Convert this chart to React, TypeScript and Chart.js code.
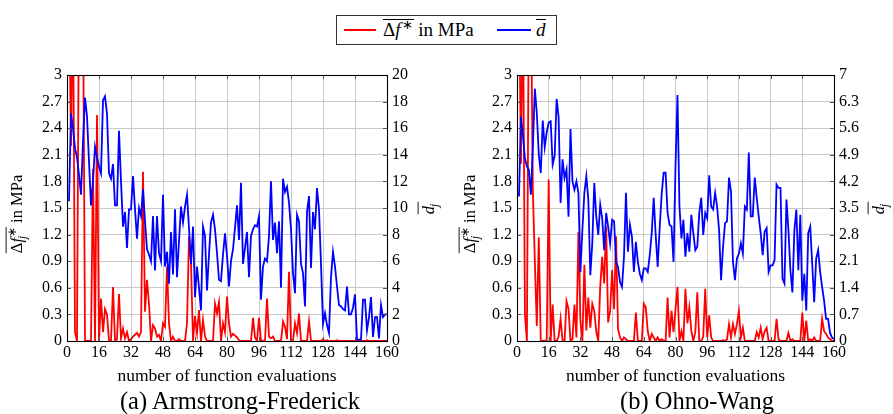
import React, { useEffect, useRef } from "react";
import { Chart, registerables } from "chart.js";

Chart.register(...registerables);

const FONT = "'Liberation Serif', 'Times New Roman', serif";

// function-evaluation index of each sample
const evaluations: number[] = Array.from({ length: 160 }, (_, i) => i + 1);

// (a) Armstrong-Frederick
const afStressDiff: number[] = [
  4, 2.2, 4, 0.1, 0, 4, 4, 4, 0, 0,
  0, 0, 1.94, 0, 2.55, 0, 0.48, 0.1, 0.36, 0.3,
  0, 0, 0.61, 0, 0.02, 0.53, 0.03, 0.14, 0.03, 0.1,
  0, 0.02, 0.05, 0.07, 0.09, 0.05, 0.1, 1.91, 0.33, 0.69,
  0.42, 0, 0.18, 0.14, 0.05, 0.07, 0, 0.2, 0.16, 0.84,
  0.2, 0, 0.05, 0, 0, 0.02, 0, 0, 0, 0.2,
  1.18, 0.88, 0, 0.28, 0.09, 0.35, 0, 0.24, 0.05, 0,
  0, 0, 0, 0.42, 0.31, 0.44, 0, 0.2, 0.1, 0.5,
  0.2, 0.05, 0.08, 0.06, 0.04, 0.01, 0, 0, 0, 0,
  0, 0, 0.26, 0.04, 0, 0.26, 0, 0, 0, 0.48,
  0.05, 0.03, 0.05, 0, 0, 0, 0, 0.22, 0.16, 0.02,
  0.78, 0, 0, 0.2, 0.09, 0.31, 0, 0, 0, 0,
  0.22, 0, 0, 0, 0, 0, 0, 0.02, 0, 0.01,
  0, 0, 0, 0, 0.01, 0, 0, 0, 0, 0,
  0, 0, 0, 0, 0, 0, 0, 0, 0, 0.01,
  0, 0, 0, 0, 0, 0, 0, 0, 0, 0,
];
const afDistance: number[] = [
  10.5, 17.1, 16.0, 14.5, 13.8, 12.5, 11.0, 15.0, 18.3, 16.9,
  13.5, 10.2, 12.0, 14.6, 13.8, 13.1, 12.6, 18.1, 18.4, 17.1,
  12.6, 12.2, 13.3, 10.2, 10.2, 15.8, 12.0, 8.6, 9.7, 7.0,
  9.9, 9.9, 12.4, 9.9, 7.7, 10.0, 9.4, 11.4, 9.0, 6.9,
  6.5, 6.0, 9.4, 5.3, 9.4, 6.6, 6.0, 11.0, 5.6, 6.7,
  4.3, 8.2, 5.0, 9.9, 4.8, 7.5, 10.1, 8.9, 10.1, 11.0,
  8.5, 5.8, 8.6, 3.3, 5.6, 4.0, 2.3, 8.6, 7.9, 3.8,
  6.5, 8.9, 9.5, 8.4, 6.6, 4.6, 4.5, 6.5, 8.1, 6.4,
  4.1, 6.0, 6.9, 8.5, 10.2, 7.6, 11.9, 5.8, 7.0, 8.2,
  4.8, 7.9, 8.4, 8.7, 8.6, 9.4, 3.1, 5.6, 6.2, 6.0,
  7.9, 12.0, 7.6, 8.9, 6.6, 9.0, 4.0, 12.2, 11.2, 11.6,
  10.4, 8.4, 5.1, 3.6, 9.5, 9.0, 5.8, 5.1, 2.6, 9.7,
  10.9, 5.5, 9.7, 8.4, 11.5, 9.9, 5.8, 1.3, 2.1, 1.2,
  0.6, 4.8, 6.7, 5.6, 4.1, 2.7, 2.6, 2.4, 2.3, 4.1,
  2.0, 2.0, 2.5, 3.5, 0.1, 0.1, 0.1, 3.1, 3.1, 0.8,
  1.8, 3.3, 0.3, 1.8, 1.8, 0.2, 2.7, 1.8, 2.0, 2.0,
];

// (b) Ohno-Wang
const owStressDiff: number[] = [
  4, 2.0, 4, 0.3, 0, 4, 4, 1.7, 0.9, 0.17,
  1.17, 0, 0, 0, 0, 1.82, 0, 0.41, 0, 0,
  0.05, 0.25, 0, 0, 0.45, 0.36, 0, 0.02, 0.41, 0.04,
  1.23, 0.23, 0, 0.86, 0.12, 0.49, 0.15, 0.42, 0.34, 0.11,
  0, 0.61, 0.95, 0.65, 1.29, 0.21, 0.34, 0.8, 0.36, 1.18,
  0.13, 0.04, 0, 0.04, 0.02, 0, 0, 0, 0, 0.32,
  0, 0, 0, 0.42, 0.38, 0.11, 0, 0.08, 0.04, 0,
  0.04, 0, 0.02, 0, 0, 0.49, 0.04, 0.34, 0.1, 0.36,
  0.61, 0, 0.11, 0, 0.59, 0.2, 0.38, 0.11, 0, 0.1,
  0.55, 0, 0, 0.05, 0.59, 0.04, 0.29, 0.04, 0, 0,
  0, 0, 0, 0.01, 0, 0.02, 0.19, 0.04, 0.19, 0.08,
  0.19, 0.34, 0.04, 0.15, 0, 0, 0, 0, 0, 0,
  0.1, 0.04, 0.15, 0.02, 0.11, 0.15, 0, 0, 0, 0,
  0.25, 0.02, 0, 0, 0, 0, 0.09, 0, 0.02, 0,
  0, 0, 0, 0.32, 0, 0.23, 0, 0.02, 0, 0.04,
  0, 0, 0, 0.25, 0.11, 0.08, 0.04, 0.02, 0, 0,
];
const owDistance: number[] = [
  3.8, 5.9, 5.4, 4.8, 4.6, 4.5, 3.85, 5.1, 6.64, 6.0,
  4.9, 4.42, 5.8, 5.1, 5.5, 5.75, 5.78, 4.64, 4.87, 6.37,
  5.89, 3.63, 4.78, 4.29, 4.51, 3.27, 5.58, 4.2, 3.98, 4.2,
  3.89, 1.81, 2.92, 3.9, 4.34, 3.72, 1.73, 2.57, 4.16, 3.28,
  2.79, 3.59, 3.23, 2.39, 3.37, 3.01, 2.57, 3.19, 3.15, 2.08,
  1.95, 1.55, 1.42, 2.22, 3.9, 2.35, 3.06, 2.75, 1.82, 2.61,
  2.08, 1.77, 1.6, 1.91, 1.91, 1.82, 2.26, 2.84, 3.77, 2.79,
  1.95, 2.97, 3.85, 4.43, 4.43, 3.37, 3.06, 3.01, 2.08, 4.6,
  6.47, 3.54, 2.7, 3.19, 2.22, 2.84, 2.35, 3.32, 2.84, 2.39,
  2.48, 3.37, 3.77, 2.79, 3.37, 3.23, 4.36, 3.54, 3.46, 3.9,
  3.54, 2.92, 1.6, 2.48, 3.1, 3.15, 4.3, 3.94, 2.08, 1.6,
  2.17, 2.3, 2.57, 2.3, 3.54, 3.46, 4.96, 3.28, 3.28, 4.3,
  3.77, 3.28, 2.84, 2.26, 2.88, 2.97, 1.82, 1.99, 1.99, 2.13,
  4.12, 4.03, 4.03, 1.64, 1.51, 3.72, 2.92, 1.86, 1.28, 2.92,
  3.46, 1.86, 3.32, 1.06, 1.77, 0.8, 2.84, 3.01, 2.04, 1.02,
  2.17, 2.39, 1.82, 1.42, 1.06, 0.58, 0.58, 0.22, 0.09, 0.05,
];

const xTicks: number[] = [0, 16, 32, 48, 64, 80, 96, 112, 128, 144, 160];
const stressTicks: number[] = [0, 0.3, 0.6, 0.9, 1.2, 1.5, 1.8, 2.1, 2.4, 2.7, 3];
const afDistTicks: number[] = [0, 2, 4, 6, 8, 10, 12, 14, 16, 18, 20];
const owDistTicks: number[] = [0, 0.7, 1.4, 2.1, 2.8, 3.5, 4.2, 4.9, 5.6, 6.3, 7];

const xTitle = "number of function evaluations";
const captionA = "(a) Armstrong-Frederick";
const captionB = "(b) Ohno-Wang";

type Part = { t: string; italic?: boolean; over?: boolean; sup?: string; sub?: string };

function drawMath(ctx: CanvasRenderingContext2D, parts: Part[], cx: number, cy: number, size: number) {
  ctx.save();
  ctx.translate(cx, cy);
  ctx.rotate(-Math.PI / 2);
  ctx.fillStyle = "#000";
  ctx.strokeStyle = "#000";
  ctx.textBaseline = "alphabetic";
  ctx.textAlign = "left";
  const f = (italic: boolean | undefined, s: number) => `${italic ? "italic " : ""}${s.toFixed(1)}px ${FONT}`;
  const ss = size * 0.7;
  const widths = parts.map((p) => {
    ctx.font = f(p.italic, size);
    let w = ctx.measureText(p.t).width;
    if (p.sup || p.sub) {
      ctx.font = f(true, ss);
      const a = p.sup ? ctx.measureText(p.sup).width : 0;
      const b = p.sub ? ctx.measureText(p.sub).width : 0;
      w += Math.max(a, b) + 1;
    }
    return w;
  });
  const total = widths.reduce((a, b) => a + b, 0);
  let x = -total / 2;
  const base = size * 0.32;
  let o0: number | null = null;
  let o1 = 0;
  parts.forEach((p, i) => {
    ctx.font = f(p.italic, size);
    ctx.fillText(p.t, x, base);
    const mw = ctx.measureText(p.t).width;
    if (p.sup) {
      ctx.font = f(false, ss);
      ctx.fillText(p.sup, x + mw + 1, base - size * 0.38);
    }
    if (p.sub) {
      ctx.font = f(true, ss);
      ctx.fillText(p.sub, x + mw - 1, base + size * 0.2);
    }
    if (p.over) {
      if (o0 === null) o0 = x;
      o1 = x + widths[i];
    }
    x += widths[i];
  });
  if (o0 !== null) {
    const oy = base - size * 0.98;
    ctx.lineWidth = 0.9;
    ctx.beginPath();
    ctx.moveTo(o0, oy);
    ctx.lineTo(o1, oy);
    ctx.stroke();
  }
  ctx.restore();
}

type Dims = { leftW: number; rightW: number; leftTitleX: number; rightTitleX: number; padTop: number };

function buildConfig(red: number[], blue: number[], distTicks: number[], dims: Dims): any {
  const toPts = (arr: number[]) => arr.map((v, i) => ({ x: evaluations[i], y: v }));
  const tickFont = { family: FONT, size: 16 };
  const fmt = (v: any) => String(Math.round(Number(v) * 10) / 10);
  const gridColor = "#c9c9c9";

  const framePlugin = {
    id: "frameAndTitles",
    afterDatasetsDraw(chart: any) {
      const { ctx, chartArea } = chart;
      const { left, right, top, bottom } = chartArea;
      ctx.save();
      ctx.strokeStyle = "#555";
      ctx.lineWidth = 1;
      const xs = chart.scales.x;
      const ys = chart.scales.yF;
      ctx.beginPath();
      xTicks.forEach((v) => {
        const px = Math.round(xs.getPixelForValue(v)) + 0.5;
        ctx.moveTo(px, bottom);
        ctx.lineTo(px, bottom - 4);
        ctx.moveTo(px, top);
        ctx.lineTo(px, top + 4);
      });
      stressTicks.forEach((v) => {
        const py = Math.round(ys.getPixelForValue(v)) + 0.5;
        ctx.moveTo(left, py);
        ctx.lineTo(left + 4, py);
        ctx.moveTo(right, py);
        ctx.lineTo(right - 4, py);
      });
      ctx.stroke();
      ctx.strokeStyle = "#000";
      ctx.lineWidth = 1.1;
      ctx.strokeRect(Math.round(left) + 0.5, Math.round(top) + 0.5, Math.round(right - left), Math.round(bottom - top));
      ctx.restore();
      const cy = (top + bottom) / 2;
      drawMath(ctx, [
        { t: "\u0394", over: true },
        { t: "f", italic: true, over: true, sup: "\u2217", sub: "j" },
        { t: " in MPa" },
      ], dims.leftTitleX, cy + 6, 16.5);
      drawMath(ctx, [{ t: "d", italic: true, over: true, sub: "j" }], dims.rightTitleX, cy, 16.5);
    },
  };

  return {
    type: "line",
    data: {
      datasets: [
        { label: "d", data: toPts(blue), yAxisID: "yD", borderColor: "#0000ff", borderWidth: 1.8, pointRadius: 0, tension: 0, order: 0 },
        { label: "f", data: toPts(red), yAxisID: "yF", borderColor: "#ff0000", borderWidth: 1.8, pointRadius: 0, tension: 0, order: 1 },
      ],
    },
    options: {
      animation: false,
      responsive: false,
      devicePixelRatio: 1,
      layout: { padding: { top: dims.padTop, left: 0, right: 0, bottom: 0 } },
      plugins: { legend: { display: false }, tooltip: { enabled: false }, title: { display: false } },
      scales: {
        x: {
          type: "linear",
          min: 0,
          max: 160,
          afterBuildTicks: (s: any) => { s.ticks = xTicks.map((value) => ({ value })); },
          afterFit: (s: any) => { s.height = 54; },
          ticks: { font: tickFont, color: "#000", padding: 2, maxRotation: 0, autoSkip: false, callback: fmt },
          grid: { color: gridColor, drawTicks: false, lineWidth: 1 },
          border: { display: false },
          title: { display: true, text: xTitle, color: "#000", font: { family: FONT, size: 17.5 }, padding: { top: 0, bottom: 8 } },
        },
        yF: {
          position: "left",
          min: 0,
          max: 3,
          afterBuildTicks: (s: any) => { s.ticks = stressTicks.map((value) => ({ value })); },
          afterFit: (s: any) => { s.width = dims.leftW; },
          ticks: { font: tickFont, color: "#000", padding: 5, callback: fmt },
          grid: { color: gridColor, drawTicks: false, lineWidth: 1 },
          border: { display: false },
        },
        yD: {
          position: "right",
          min: 0,
          max: distTicks[distTicks.length - 1],
          afterBuildTicks: (s: any) => { s.ticks = distTicks.map((value) => ({ value })); },
          afterFit: (s: any) => { s.width = dims.rightW; },
          ticks: { font: tickFont, color: "#000", padding: 5, callback: fmt },
          grid: { display: false, drawTicks: false },
          border: { display: false },
        },
      },
    },
    plugins: [framePlugin],
  };
}

export default function App() {
  const refA = useRef<HTMLCanvasElement | null>(null);
  const refB = useRef<HTMLCanvasElement | null>(null);

  useEffect(() => {
    const a = new Chart(refA.current as HTMLCanvasElement, buildConfig(afStressDiff, afDistance, afDistTicks, {
      leftW: 67, rightW: 59, leftTitleX: 17, rightTitleX: 429, padTop: 15,
    }));
    const b = new Chart(refB.current as HTMLCanvasElement, buildConfig(owStressDiff, owDistance, owDistTicks, {
      leftW: 67, rightW: 59, leftTitleX: 20, rightTitleX: 429, padTop: 15,
    }));
    return () => { a.destroy(); b.destroy(); };
  }, []);

  const textStyle: React.CSSProperties = { fontFamily: FONT, color: "#000" };

  return (
    <div style={{ position: "absolute", left: 0, top: 0, width: 893, height: 414, background: "#fff", overflow: "hidden" }}>
      <div style={{ ...textStyle, position: "absolute", left: 336, top: 15, width: 221, height: 30, boxSizing: "border-box", border: "1px solid #333", fontSize: 19 }}>
        <span style={{ position: "absolute", left: 7, top: 13, width: 32, height: 2, background: "#ff0000" }} />
        <span style={{ position: "absolute", left: 46, top: 2, lineHeight: "24px", whiteSpace: "nowrap" }}>
          <span style={{ display: "inline-block", borderTop: "1px solid #000", lineHeight: "19px", paddingRight: 1 }}>
            {"\u0394"}<i>f</i><span style={{ fontSize: "70%", position: "relative", top: "-0.5em", marginLeft: 1 }}>{"\u2217"}</span>
          </span>
          {" in MPa"}
        </span>
        <span style={{ position: "absolute", left: 160, top: 13, width: 34, height: 2, background: "#0000ff" }} />
        <span style={{ position: "absolute", left: 199, top: 2, lineHeight: "24px", whiteSpace: "nowrap" }}>
          <i style={{ display: "inline-block", borderTop: "1px solid #000", lineHeight: "19px" }}>d</i>
        </span>
      </div>
      <canvas ref={refA} width={446} height={335} style={{ position: "absolute", left: 0, top: 60 }} />
      <canvas ref={refB} width={443} height={335} style={{ position: "absolute", left: 450, top: 60 }} />
      <div style={{ ...textStyle, position: "absolute", left: 40, top: 387, width: 400, textAlign: "center", fontSize: 24.5, lineHeight: "28px" }}>{captionA}</div>
      <div style={{ ...textStyle, position: "absolute", left: 497, top: 387, width: 400, textAlign: "center", fontSize: 24.5, lineHeight: "28px" }}>{captionB}</div>
    </div>
  );
}
